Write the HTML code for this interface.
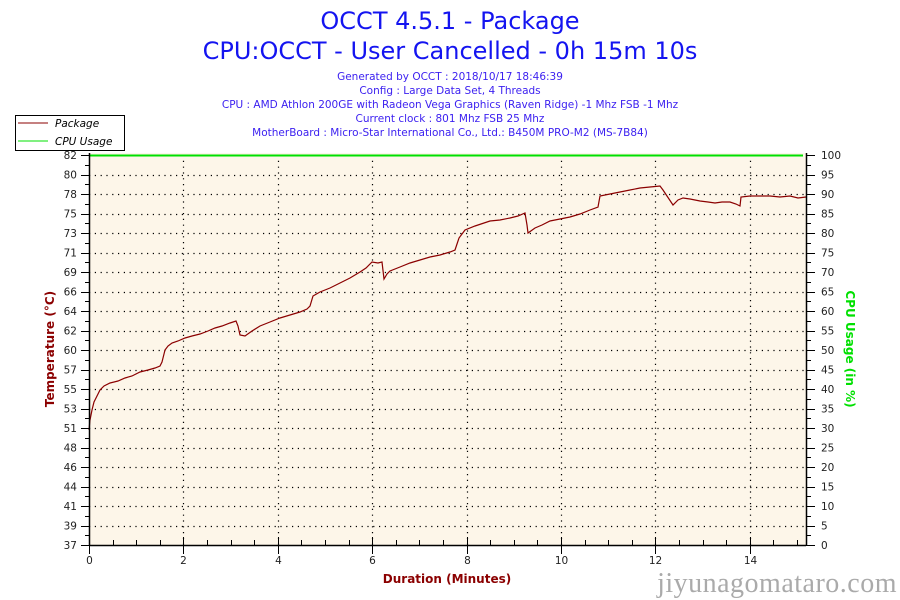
<!DOCTYPE html>
<html><head><meta charset="utf-8"><style>
html,body{margin:0;padding:0;background:#fff;width:900px;height:600px;overflow:hidden}
svg{display:block}
text{font-family:"DejaVu Sans","Liberation Sans",sans-serif}
</style></head><body>
<svg width="900" height="600" viewBox="0 0 900 600" xmlns="http://www.w3.org/2000/svg">
<text x="450" y="29" text-anchor="middle" font-size="24" fill="#1414f0">OCCT 4.5.1 - Package</text>
<text x="450" y="59" text-anchor="middle" font-size="24" fill="#1414f0">CPU:OCCT - User Cancelled - 0h 15m 10s</text>
<g font-size="10.5" fill="#3a1ef0" text-anchor="middle">
<text x="450" y="80">Generated by OCCT : 2018/10/17 18:46:39</text>
<text x="450" y="94">Config : Large Data Set, 4 Threads</text>
<text x="450" y="108">CPU : AMD Athlon 200GE with Radeon Vega Graphics (Raven Ridge) -1 Mhz FSB -1 Mhz</text>
<text x="450" y="122">Current clock : 801 Mhz FSB 25 Mhz</text>
<text x="450" y="136">MotherBoard : Micro-Star International Co., Ltd.: B450M PRO-M2 (MS-7B84)</text>
</g>
<rect x="15.5" y="115.5" width="109" height="35" fill="#fff" stroke="#000"/>
<line x1="18" y1="123" x2="48" y2="123" stroke="#8b0000"/>
<line x1="18" y1="141" x2="48" y2="141" stroke="#00e000"/>
<text x="55" y="127" font-size="10.5" font-style="italic" fill="#000">Package</text>
<text x="55" y="145" font-size="10.5" font-style="italic" fill="#000">CPU Usage</text>
<rect x="89" y="153" width="717" height="392" fill="#fdf6e9"/>
<g id="grid" stroke="#000" stroke-width="1.2" stroke-dasharray="1.2,4.6"></g>
<line x1="89" y1="155.5" x2="803" y2="155.5" stroke="#00e000" stroke-width="2"/>
<polyline fill="none" stroke="#8b0000" stroke-width="1.2" points="89,430 90,420 92,410 94,402 97,396 100,390 104,386 110,383 118,381 125,378 132,376 140,372 148,370 155,368 160,366 162,362 165,350 168,346 172,343 178,341 185,338 192,336 200,334 208,331 215,328 222,326 230,323 236,321 238,326 240,335 245,336 252,331 260,326 270,322 280,318 290,315 300,312 307,309 310,306 313,296 320,292 330,288 340,283 350,278 360,272 366,268 372,262 378,263 382,262 384,279 387,274 390,271 400,267 410,263 420,260 430,257 440,255 450,252 455,250 457,244 459,238 465,230 475,226 490,221 500,220 510,218 518,216 525,213 527,225 528,233 535,228 542,225 550,221 560,219 570,217 580,214 590,210 598,207 600,196 610,194 620,192 630,190 640,188 650,187 660,186 663,190 667,196 673,205 678,200 683,198 690,199 700,201 708,202 715,203 722,202 730,202 736,204 740,206 741,197 750,196 760,196 770,196 780,197 790,196 798,198 806,197"/>
<g id="axes" stroke="#000" fill="none"></g>
<g id="labels" font-size="10.5" fill="#222"></g>
<text x="447" y="583" text-anchor="middle" font-size="12" font-weight="bold" fill="#8b0000">Duration (Minutes)</text>
<text transform="translate(54,349) rotate(-90)" text-anchor="middle" font-size="12" font-weight="bold" fill="#8b0000">Temperature (°C)</text>
<text transform="translate(846,349) rotate(90)" text-anchor="middle" font-size="12" font-weight="bold" fill="#00e000">CPU Usage (in %)</text>
<text x="897" y="592" text-anchor="end" font-size="28" fill="#aaa" style="font-family:'Liberation Serif',serif;letter-spacing:0.5px">jiyunagomataro.com</text>
</svg>
<script>
var NS="http://www.w3.org/2000/svg";
function el(p,t,a,txt){var e=document.createElementNS(NS,t);for(var k in a)e.setAttribute(k,a[k]);if(txt!=null)e.textContent=txt;document.getElementById(p).appendChild(e);}
var L=89,R=806,T=155,B=545;
var lv=[82,80,78,75,73,71,69,66,64,62,60,57,55,53,51,48,46,44,41,39,37];
for(var i=0;i<=20;i++){var y=T+i*19.5;var yy=Math.round(y)+0.5;
 if(i>0&&i<20) el("grid","line",{x1:L,y1:yy,x2:R,y2:yy});
 el("axes","line",{x1:L-8,y1:yy,x2:L+1,y2:yy});
 el("axes","line",{x1:R,y1:yy,x2:R+9,y2:yy});
 if(i<20){var ym=Math.round(y+9.75)+0.5;el("axes","line",{x1:L-4,y1:ym,x2:L+1,y2:ym});el("axes","line",{x1:R,y1:ym,x2:R+5,y2:ym});}
 el("labels","text",{x:L-12,y:y+4,"text-anchor":"end"},lv[i]);
 el("labels","text",{x:R+15,y:y+4},100-5*i);
}
var pm=47.2;
for(var m=0;m<=15;m+=0.5){var x=Math.round(L+m*pm)+0.5;
 if(m%2==0){ if(m>0) el("grid","line",{x1:x,y1:T,x2:x,y2:B}); el("axes","line",{x1:x,y1:B-8,x2:x,y2:B+9}); el("labels","text",{x:x,y:B+19,"text-anchor":"middle"},m);}
 else el("axes","line",{x1:x,y1:B-5,x2:x,y2:B+1});
}
el("axes","line",{x1:L+0.5,y1:153,x2:L+0.5,y2:B+0.5,"stroke-width":1.5});
el("axes","line",{x1:R+0.5,y1:153,x2:R+0.5,y2:B+0.5,"stroke-width":1.5});
el("axes","line",{x1:L,y1:B+0.5,x2:R,y2:B+0.5,"stroke-width":1.5});
</script>
</body></html>
